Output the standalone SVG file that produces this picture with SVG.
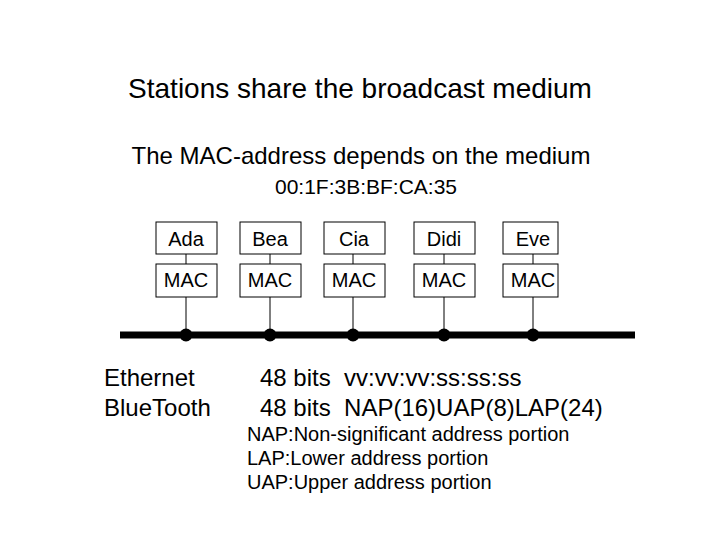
<svg xmlns="http://www.w3.org/2000/svg" width="720" height="540" viewBox="0 0 720 540">
<style>
text{font-family:"Liberation Sans",Arial,sans-serif;fill:#000}
.box{fill:#fff;stroke:#000;stroke-width:1}
.lbl{font-size:20px;text-anchor:middle}
.wire{stroke:#000;stroke-width:1;fill:none}
.big{font-size:24px}
.note{font-size:20px}
</style>
<rect width="720" height="540" fill="#fff"/>
<text x="360" y="98" font-size="28" text-anchor="middle">Stations share the broadcast medium</text>
<text x="361" y="164" font-size="24" text-anchor="middle">The MAC-address depends on the medium</text>
<text x="366" y="194" font-size="21" text-anchor="middle">00:1F:3B:BF:CA:35</text>
<g id="connectors">
<line x1="120" y1="335" x2="635" y2="335" stroke="#000" stroke-width="7"/>
<line class="wire" x1="186" y1="254" x2="186" y2="264"/>
<line class="wire" x1="186" y1="297" x2="186" y2="335"/>
<line class="wire" x1="270" y1="254" x2="270" y2="264"/>
<line class="wire" x1="270" y1="297" x2="270" y2="335"/>
<line class="wire" x1="353" y1="254" x2="353" y2="264"/>
<line class="wire" x1="353" y1="297" x2="353" y2="335"/>
<line class="wire" x1="444" y1="254" x2="444" y2="264"/>
<line class="wire" x1="444" y1="297" x2="444" y2="335"/>
<line class="wire" x1="533" y1="254" x2="533" y2="264"/>
<line class="wire" x1="533" y1="297" x2="533" y2="335"/>
<circle cx="186" cy="335" r="6.5"/>
<circle cx="270" cy="335" r="6.5"/>
<circle cx="353" cy="335" r="6.5"/>
<circle cx="444" cy="335" r="6.5"/>
<circle cx="533" cy="335" r="6.5"/>
</g>
<g id="ada"><rect class="box" x="156" y="222" width="61" height="32"/><text class="lbl" x="186" y="246">Ada</text></g>
<g id="ada-mac"><rect class="box" x="156" y="264" width="61" height="33"/><text class="lbl" x="186" y="287">MAC</text></g>
<g id="bea"><rect class="box" x="240" y="222" width="61" height="32"/><text class="lbl" x="270" y="246">Bea</text></g>
<g id="bea-mac"><rect class="box" x="240" y="264" width="61" height="33"/><text class="lbl" x="270" y="287">MAC</text></g>
<g id="cia"><rect class="box" x="324" y="222" width="61" height="32"/><text class="lbl" x="354" y="246">Cia</text></g>
<g id="cia-mac"><rect class="box" x="324" y="264" width="61" height="33"/><text class="lbl" x="354" y="287">MAC</text></g>
<g id="didi"><rect class="box" x="414" y="222" width="61" height="32"/><text class="lbl" x="444" y="246">Didi</text></g>
<g id="didi-mac"><rect class="box" x="414" y="264" width="61" height="33"/><text class="lbl" x="444" y="287">MAC</text></g>
<g id="eve"><rect class="box" x="503" y="222" width="55" height="32"/><text class="lbl" x="533" y="246">Eve</text></g>
<g id="eve-mac"><rect class="box" x="503" y="264" width="55" height="33"/><text class="lbl" x="533" y="287">MAC</text></g>
<text class="big" x="104" y="386">Ethernet</text>
<text class="big" x="104" y="416">BlueTooth</text>
<text class="big" x="260" y="386" xml:space="preserve">48 bits  vv:vv:vv:ss:ss:ss</text>
<text class="big" x="260" y="416" xml:space="preserve">48 bits  NAP(16)UAP(8)LAP(24)</text>
<text class="note" x="247" y="441">NAP:Non-significant address portion</text>
<text class="note" x="247" y="465">LAP:Lower address portion</text>
<text class="note" x="247" y="489">UAP:Upper address portion</text>
</svg>
